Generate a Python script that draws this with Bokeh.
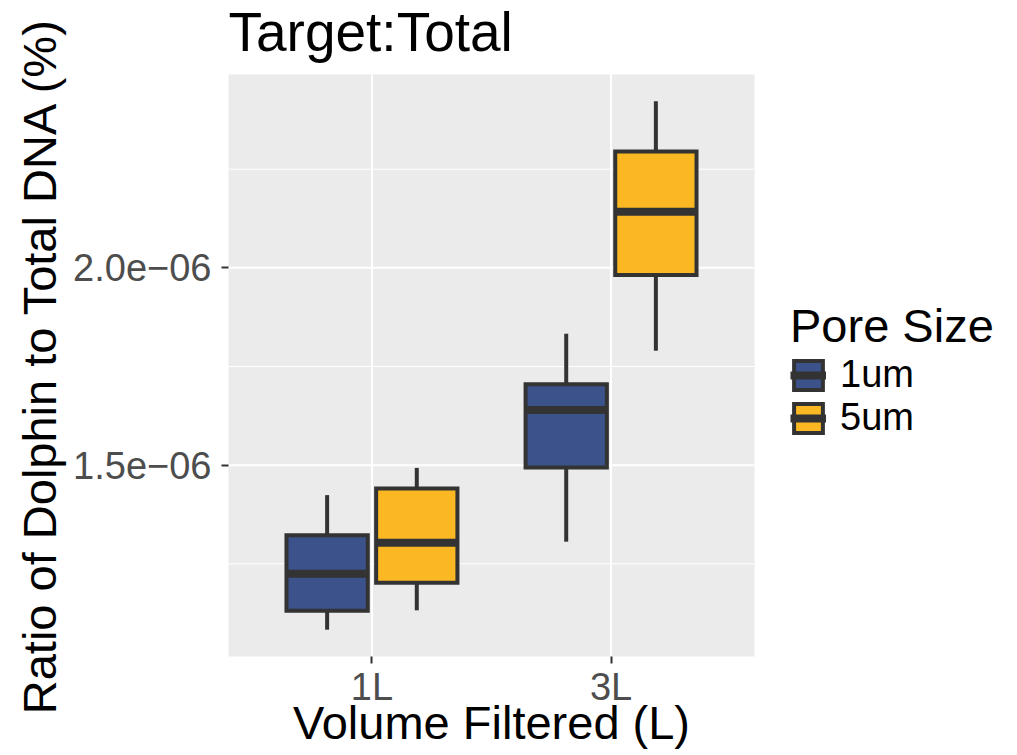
import math
from bokeh.plotting import figure
from bokeh.models import (Range1d, FixedTicker, Legend, LegendItem, Label,
                          ColumnDataSource)
from bokeh.embed import file_html
from bokeh.resources import INLINE

# ---------------- data ----------------
volumes = ["1L", "3L"]
pore_sizes = ["1um", "5um"]
colors = ["#3B528B", "#FBB823"]

lower_1um = [1.083e-6, 1.306e-6]
q1_1um = [1.131e-6, 1.494e-6]
median_1um = [1.225e-6, 1.640e-6]
q3_1um = [1.322e-6, 1.705e-6]
upper_1um = [1.424e-6, 1.833e-6]

lower_5um = [1.132e-6, 1.790e-6]
q1_5um = [1.202e-6, 1.982e-6]
median_5um = [1.303e-6, 2.142e-6]
q3_5um = [1.441e-6, 2.295e-6]
upper_5um = [1.493e-6, 2.422e-6]

y_ticks = [1.5e-6, 2.0e-6]
y_tick_labels = ["1.5e\u221206", "2.0e\u221206"]
y_minor = [1.25e-6, 1.75e-6, 2.25e-6]

stats = {
    "1um": (lower_1um, q1_1um, median_1um, q3_1um, upper_1um),
    "5um": (lower_5um, q1_5um, median_5um, q3_5um, upper_5um),
}

# ---------------- layout ----------------
W, H = 1017, 755
PANEL_L, PANEL_R, PANEL_T, PANEL_B = 228, 754, 74, 656     # pixels
X_LO, X_HI = 0.4, 2.6                                      # panel x extent
Y_LO, Y_HI = 1.015e-6, 2.49e-6                             # panel y extent
sx = (PANEL_R - PANEL_L) / (X_HI - X_LO)
sy = (PANEL_B - PANEL_T) / (Y_HI - Y_LO)
x_start = X_LO - PANEL_L / sx
x_end = X_HI + (W - PANEL_R) / sx
y_start = Y_LO - (H - PANEL_B) / sy
y_end = Y_HI + PANEL_T / sy

FONT = "Liberation Sans"
DARK = "#333333"
dodge = [-0.1875, 0.1875]
box_w = 0.34

p = figure(width=W, height=H,
           x_range=Range1d(x_start, x_end), y_range=Range1d(y_start, y_end),
           output_backend="svg", toolbar_location=None,
           min_border_left=0, min_border_right=0,
           min_border_top=0, min_border_bottom=0)
p.title.visible = False
p.background_fill_color = "white"
p.border_fill_color = "white"
p.outline_line_color = None
p.xgrid.visible = False
p.ygrid.visible = False

# panel background and grid
p.quad(left=[X_LO], right=[X_HI], bottom=[Y_LO], top=[Y_HI],
       fill_color="#EBEBEB", line_color=None)
p.segment(x0=[X_LO] * len(y_minor), x1=[X_HI] * len(y_minor),
          y0=y_minor, y1=y_minor, line_color="white", line_width=1)
p.segment(x0=[X_LO] * len(y_ticks), x1=[X_HI] * len(y_ticks),
          y0=y_ticks, y1=y_ticks, line_color="white", line_width=2)
xt = [i + 1 for i in range(len(volumes))]
p.segment(x0=xt, x1=xt, y0=[Y_LO] * len(xt), y1=[Y_HI] * len(xt),
          line_color="white", line_width=2)

items = []
for k, ps in enumerate(pore_sizes):
    lo, q1, med, q3, hi = stats[ps]
    xs = [i + 1 + dodge[k] for i in range(len(volumes))]
    src = ColumnDataSource(dict(
        x=xs, lo=lo, q1=q1, med=med, q3=q3, hi=hi,
        left=[x - box_w / 2 for x in xs], right=[x + box_w / 2 for x in xs]))
    p.segment(x0="x", y0="lo", x1="x", y1="q1", source=src,
              line_color=DARK, line_width=4)
    p.segment(x0="x", y0="q3", x1="x", y1="hi", source=src,
              line_color=DARK, line_width=4)
    box = p.vbar(x="x", width=box_w, bottom="q1", top="q3", source=src,
                 fill_color=colors[k], line_color=DARK, line_width=4,
                 line_join="miter")
    medr = p.segment(x0="left", y0="med", x1="right", y1="med", source=src,
                     line_color=DARK, line_width=8)
    items.append(LegendItem(label=ps, renderers=[box, medr]))

# axes (fixed at panel edges)
p.xaxis.ticker = FixedTicker(ticks=xt)
p.xaxis.major_label_overrides = dict(zip(xt, volumes))
p.yaxis.ticker = FixedTicker(ticks=y_ticks, minor_ticks=y_minor)
p.yaxis.major_label_overrides = dict(zip(y_ticks, y_tick_labels))
p.xaxis.fixed_location = Y_LO
p.yaxis.fixed_location = X_LO

for ax in (p.xaxis[0], p.yaxis[0]):
    ax.axis_line_color = None
    ax.major_tick_line_color = DARK
    ax.major_tick_line_width = 2
    ax.major_tick_out = 7
    ax.major_tick_in = 0
    ax.minor_tick_out = 0
    ax.minor_tick_in = 0
    ax.minor_tick_line_color = None
    ax.major_label_text_font = FONT
    ax.major_label_text_font_size = "38px"
    ax.major_label_text_color = "#4D4D4D"
p.xaxis.major_label_standoff = 2
p.yaxis.major_label_standoff = 10

# titles (screen units from bottom-left)
p.add_layout(Label(x=PANEL_L, y=H - 31, x_units="screen", y_units="screen",
                   text="Target:Total", text_font=FONT, text_font_size="55px",
                   text_color="black", text_align="left",
                   text_baseline="middle"))
p.add_layout(Label(x=(PANEL_L + PANEL_R) / 2, y=H - 722, x_units="screen",
                   y_units="screen", text="Volume Filtered (L)",
                   text_font=FONT, text_font_size="47px", text_color="black",
                   text_align="center", text_baseline="middle"))
p.add_layout(Label(x=39, y=H - (PANEL_T + PANEL_B) / 2, x_units="screen",
                   y_units="screen", angle=math.pi / 2,
                   text="Ratio of Dolphin to Total DNA (%)",
                   text_font=FONT, text_font_size="47px", text_color="black",
                   text_align="center", text_baseline="middle"))

legend = Legend(items=items, location=(790, 316), title="Pore Size",
                title_text_font=FONT, title_text_font_size="47px",
                title_text_font_style="normal", title_text_color="black",
                title_standoff=0,
                label_text_font=FONT, label_text_font_size="38px",
                label_text_color="black",
                glyph_width=36, glyph_height=36, label_standoff=14,
                spacing=0, padding=4, margin=0,
                border_line_color=None, background_fill_alpha=0)
p.add_layout(legend)

open("out.html", "w").write(file_html(p, INLINE))
